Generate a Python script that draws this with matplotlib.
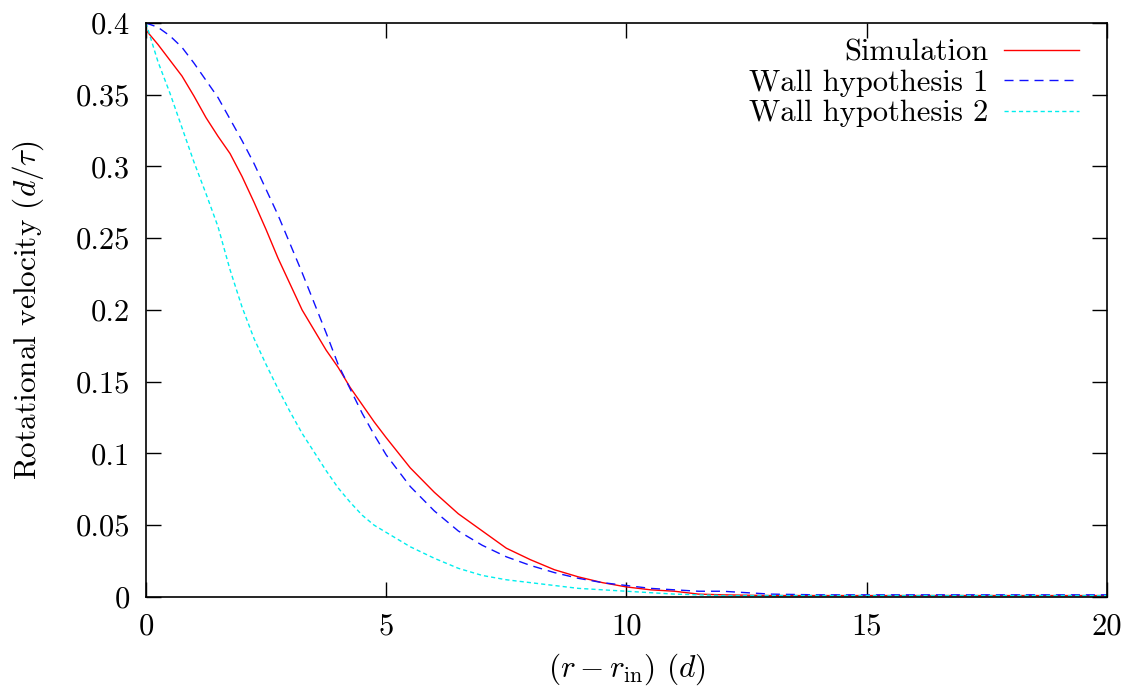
import numpy as np
import matplotlib
matplotlib.use('Agg')
import matplotlib.pyplot as plt

# Data
x_sim = [0, 0.25, 0.5, 0.75, 1.0, 1.25, 1.5, 1.75, 2.0, 2.25, 2.5, 2.75, 3.0, 3.25, 3.5,
         3.75, 4.0, 4.25, 4.5, 4.75, 5.0, 5.5, 6.0, 6.5, 7.0, 7.5, 8.0, 8.5, 9.0, 9.5,
         10, 10.5, 11, 11.5, 12, 13, 14, 15, 16, 17, 18, 19, 20]
v_sim = [0.395, 0.385, 0.374, 0.363, 0.349, 0.334, 0.321, 0.309, 0.293, 0.275, 0.256,
         0.236, 0.218, 0.200, 0.186, 0.172, 0.160, 0.146, 0.134, 0.122, 0.111, 0.090,
         0.073, 0.058, 0.046, 0.034, 0.026, 0.019, 0.014, 0.010, 0.007, 0.005, 0.004,
         0.002, 0.0015, 0.001, 0.001, 0.001, 0.001, 0.001, 0.001, 0.001, 0.001]

x_wall = [0, 0.25, 0.5, 0.75, 1.0, 1.25, 1.5, 1.75, 2.0, 2.25, 2.5, 2.75, 3.0, 3.25, 3.5,
          3.75, 4.0, 4.25, 4.5, 4.75, 5.0, 5.5, 6.0, 6.5, 7.0, 7.5, 8.0, 8.5, 9.0, 9.5,
          10, 10.5, 11, 11.5, 12, 12.5, 13, 14, 15, 16, 17, 18, 19, 20]
v_wall1 = [0.400, 0.397, 0.391, 0.383, 0.372, 0.360, 0.348, 0.333, 0.318, 0.302, 0.284,
           0.266, 0.246, 0.226, 0.205, 0.184, 0.162, 0.145, 0.128, 0.113, 0.099, 0.077,
           0.060, 0.046, 0.036, 0.028, 0.022, 0.017, 0.013, 0.010, 0.008, 0.006, 0.005,
           0.004, 0.004, 0.003, 0.002, 0.0015, 0.0015, 0.0015, 0.0015, 0.0015, 0.0015, 0.0015]
v_wall2 = [0.400, 0.373, 0.351, 0.327, 0.303, 0.281, 0.258, 0.228, 0.202, 0.180, 0.162,
           0.145, 0.129, 0.114, 0.101, 0.088, 0.076, 0.066, 0.057, 0.050, 0.045, 0.035,
           0.027, 0.020, 0.015, 0.012, 0.010, 0.008, 0.006, 0.005, 0.004, 0.003, 0.002,
           0.0015, 0.001, 0.001, 0.001, 0.001, 0.001, 0.001, 0.001, 0.001, 0.001, 0.001]

x_ticks = [0, 5, 10, 15, 20]
y_ticks = [0, 0.05, 0.1, 0.15, 0.2, 0.25, 0.3, 0.35, 0.4]
y_ticklabels = ['0', '0.05', '0.1', '0.15', '0.2', '0.25', '0.3', '0.35', '0.4']

plt.rcParams['font.family'] = 'serif'
plt.rcParams['font.serif'] = ['cmr10']
plt.rcParams['mathtext.fontset'] = 'cm'
plt.rcParams['axes.unicode_minus'] = False

fig = plt.figure(figsize=(11.35, 6.9), dpi=100)
ax = fig.add_axes([0.1286, 0.1348, 0.8467, 0.8319])

ax.plot(x_sim, v_sim, color='#ff0000', lw=1.0, label='Simulation')
ax.plot(x_wall, v_wall1, color='#1010ff', lw=1.0, dashes=(6.5, 4.3), label='Wall hypothesis 1')
ax.plot(x_wall, v_wall2, color='#00eeee', lw=1.0, dashes=(3, 2.2), label='Wall hypothesis 2')

ax.set_xlim(0, 20)
ax.set_ylim(0, 0.4)
ax.set_xticks(x_ticks)
ax.set_xticklabels([str(t) for t in x_ticks])
ax.set_yticks(y_ticks)
ax.set_yticklabels(y_ticklabels)
ax.tick_params(direction='in', length=11, width=1, top=True, right=True,
               labelsize=22, pad=11.5)
for s in ax.spines.values():
    s.set_linewidth(1.2)

ax.set_xlabel(r'$(r-r_{\rm in})$ $(d)$', fontsize=22.5, labelpad=8)
ax.set_ylabel(r'Rotational velocity $(d/\tau)$', fontsize=22.5, labelpad=21)

leg = ax.legend(loc='upper right', bbox_to_anchor=(0.9707, 0.972), frameon=False,
                fontsize=22, markerfirst=False, handlelength=2.45, labelspacing=0.1,
                borderaxespad=0, borderpad=0, handletextpad=0.52)
for t in leg.get_texts():
    t.set_ha('right')
leg._legend_box.align = 'right'

fig.savefig('out.png', dpi=100)
